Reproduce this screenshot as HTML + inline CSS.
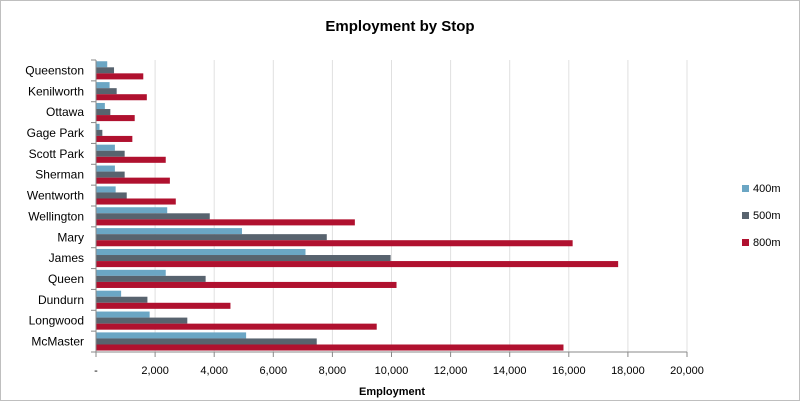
<!DOCTYPE html>
<html><head><meta charset="utf-8"><style>
body{margin:0;background:#fff;}
svg{display:block;font-family:"Liberation Sans",sans-serif;}
</style></head><body>
<svg id="chart" width="800" height="401">
<rect x="0.5" y="0.5" width="799" height="400" fill="#fff" stroke="#bfbfbf"/>
<text x="400" y="31" text-anchor="middle" font-size="15" font-weight="bold" fill="#000">Employment by Stop</text>
<g id="grid"></g><g id="bars"></g><g id="axes"></g><g id="legend"></g>
<text x="392" y="395" text-anchor="middle" font-size="11" font-weight="bold">Employment</text>
</svg>
<script>
const categories=["Queenston","Kenilworth","Ottawa","Gage Park","Scott Park","Sherman","Wentworth","Wellington","Mary","James","Queen","Dundurn","Longwood","McMaster"];
const s400=[380,460,300,120,640,640,665,2410,4940,7090,2360,850,1815,5080];
const s500=[610,700,485,215,970,970,1040,3850,7810,9970,3710,1740,3090,7470];
const s800=[1600,1720,1310,1230,2360,2500,2700,8760,16130,17670,10170,4550,9500,15820];
const xTicks=[0,2000,4000,6000,8000,10000,12000,14000,16000,18000,20000];
const tickLabels=["-","2,000","4,000","6,000","8,000","10,000","12,000","14,000","16,000","18,000","20,000"];
const seriesNames=["400m","500m","800m"];
const colors=["#6ba6c4","#58636e","#b0112f"];
const X0=96,X1=687,Y0=60,Y1=352,MAX=20000;
const ns="http://www.w3.org/2000/svg";
function x(v){return X0+(v/MAX)*(X1-X0);}
const band=(Y1-Y0)/categories.length;
function y(i){return Y0+i*band;}
function mk(t,a,p){const e=document.createElementNS(ns,t);for(const k in a)e.setAttribute(k,a[k]);p.appendChild(e);return e;}
const grid=document.getElementById('grid'),bars=document.getElementById('bars'),axes=document.getElementById('axes'),leg=document.getElementById('legend');
xTicks.forEach((t,i)=>{
  if(i>0){const g=mk('line',{x1:x(t),x2:x(t),y1:Y0,y2:Y1,stroke:'#e0e0e0'},grid);
  
  }
  const tk=mk('line',{x1:x(t),x2:x(t),y1:Y1,y2:Y1+5,stroke:'#888'},axes);
  
  
  const l=mk('text',{x:x(t),y:374,'text-anchor':'middle','font-size':11,fill:'#000'},axes);
  l.textContent=tickLabels[i];
  
  
});
const series=[s400,s500,s800];
const bh=band*0.29,off=band*0.06;
categories.forEach((c,i)=>{
  series.forEach((s,j)=>{
    const r=mk('rect',{x:X0,y:y(i)+off+j*bh,width:x(s[i])-X0,height:bh,fill:colors[j]},bars);
    
    
  });
  const t=mk('text',{x:84,y:y(i)+band/2+4,'text-anchor':'end','font-size':12,fill:'#000'},axes);
  t.textContent=c;
  
  
  const tk=mk('line',{x1:X0-5,x2:X0,y1:y(i),y2:y(i),stroke:'#888'},axes);
  
  
});
const ya=mk('line',{x1:X0,x2:X0,y1:Y0,y2:Y1,stroke:'#888'},axes);


const xa=mk('line',{x1:X0-5,x2:X1,y1:Y1,y2:Y1,stroke:'#888'},axes);


seriesNames.forEach((n,j)=>{
  const ly=191+j*27;
  const r=mk('rect',{x:742,y:ly-6,width:7,height:7,fill:colors[j]},leg);
  
  
  const t=mk('text',{x:753,y:ly+1,'font-size':11,fill:'#000'},leg);
  t.textContent=n;
  
  
});
</script>
</body></html>
